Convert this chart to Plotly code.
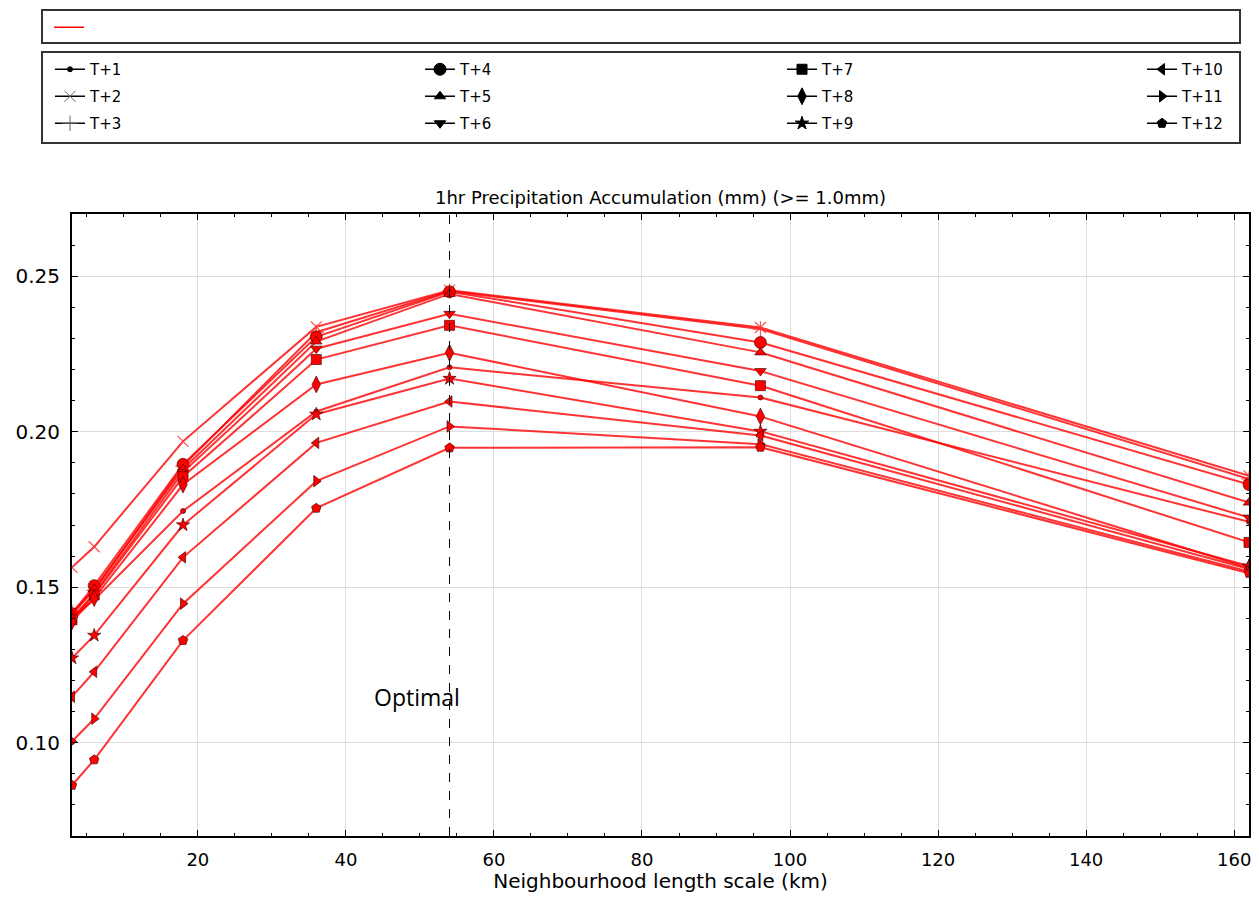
import plotly.graph_objects as go

# ---- data ----
scales_km = [3, 6, 18, 36, 54, 96, 162]
lead_names = ["T+1", "T+2", "T+3", "T+4", "T+5", "T+6",
              "T+7", "T+8", "T+9", "T+10", "T+11", "T+12"]

t1 = [0.1400, 0.1460, 0.1745, 0.2065, 0.2207, 0.2110, 0.1710]
t2 = [0.1564, 0.1630, 0.1969, 0.2337, 0.2455, 0.2335, 0.1858]
t3 = [0.1420, 0.1490, 0.1890, 0.2320, 0.2452, 0.2330, 0.1848]
t4 = [0.1415, 0.1505, 0.1895, 0.2305, 0.2450, 0.2287, 0.1830]
t5 = [0.1410, 0.1495, 0.1880, 0.2290, 0.2443, 0.2255, 0.1772]
t6 = [0.1400, 0.1480, 0.1870, 0.2267, 0.2379, 0.2195, 0.1724]
t7 = [0.1395, 0.1475, 0.1855, 0.2232, 0.2342, 0.2148, 0.1644]
t8 = [0.1390, 0.1465, 0.1830, 0.2152, 0.2254, 0.2049, 0.1562]
t9 = [0.1272, 0.1345, 0.1700, 0.2056, 0.2171, 0.2001, 0.1568]
t10 = [0.1148, 0.1228, 0.1596, 0.1964, 0.2097, 0.1988, 0.1558]
t11 = [0.1004, 0.1077, 0.1447, 0.1841, 0.2017, 0.1960, 0.1550]
t12 = [0.0863, 0.0945, 0.1329, 0.1754, 0.1948, 0.1950, 0.1545]
series = [t1, t2, t3, t4, t5, t6, t7, t8, t9, t10, t11, t12]

optimal_scale = 54
x_ticks = [20, 40, 60, 80, 100, 120, 140, 160]
y_ticks = [0.10, 0.15, 0.20, 0.25]

# ---- styles ----
symbols = ["circle", "x-thin", "cross-thin", "circle", "triangle-up", "triangle-down",
           "square", "diamond-tall", "star", "triangle-left", "triangle-right", "pentagon"]
sizes = [5, 11, 11, 12, 10, 10, 10, 12, 10, 10, 10, 10]
RED = "rgba(255,0,0,0.8)"
FONT = "DejaVu Sans"

# page offset (browser body margin) and geometry
OFF = 8
W, H = 1259 - 2 * OFF, 901 - 2 * OFF
PL, PR, PT, PB = 72, 1249, 214, 836          # plot area in screen pixels
L, R, T, B = PL - OFF, W - (PR - OFF), PT - OFF, H - (PB - OFF)
pw, ph = W - L - R, H - T - B


def sx(x):
    """screen pixel x -> paper fraction"""
    return (x - OFF - L) / pw


def sy(y):
    """screen pixel y -> paper fraction"""
    return (H - B - (y - OFF)) / ph


fig = go.Figure()

for name, vals, sym, sz in zip(lead_names, series, symbols, sizes):
    thin = sym.endswith("-thin")
    fig.add_trace(go.Scatter(
        x=scales_km, y=vals, mode="lines+markers", name=name, showlegend=False,
        line=dict(color=RED, width=2),
        marker=dict(symbol=sym, size=sz, color="red",
                    line=dict(color="rgba(255,60,60,0.9)" if thin else "rgba(60,0,0,0.8)",
                              width=1.2 if thin else 0.8)),
    ))

# legend box 1: line colour key (no label)
fig.add_trace(go.Scatter(x=[None], y=[None], mode="lines", name=" ",
                         line=dict(color="red", width=1.5), legend="legend"))

# legend box 2: marker key, 4 columns x 3 rows
col_legends = ["legend2", "legend3", "legend4", "legend5"]
for i, (name, sym, sz) in enumerate(zip(lead_names, symbols, sizes)):
    thin = sym.endswith("-thin")
    fig.add_trace(go.Scatter(
        x=[None], y=[None], mode="lines+markers", name=name,
        legend=col_legends[i // 3], legendgroup=name,
        line=dict(color="black", width=1.5),
        marker=dict(symbol=sym, size=sz, color="#777" if thin else "black",
                    line=dict(color="#666" if thin else "black", width=1)),
    ))

leg_font = dict(family=FONT, size=15, color="black")
layout_legends = {
    "legend": dict(x=sx(49), y=sy(11), xanchor="left", yanchor="top",
                   bgcolor="rgba(0,0,0,0)", borderwidth=0, font=leg_font,
                   itemsizing="trace"),
}
for lg, xx in zip(col_legends, [50, 420, 782, 1142]):
    layout_legends[lg] = dict(x=sx(xx), y=sy(53), xanchor="left", yanchor="top",
                              bgcolor="rgba(0,0,0,0)", borderwidth=0, font=leg_font,
                              tracegroupgap=4.5, itemsizing="trace")

fig.update_layout(
    width=W, height=H,
    margin=dict(l=L, r=R, t=T, b=B, autoexpand=False),
    paper_bgcolor="white", plot_bgcolor="white",
    font=dict(family=FONT, color="black"),
    title=dict(text="1hr Precipitation Accumulation (mm) (>= 1.0mm)",
               x=0.5, xref="paper", xanchor="center",
               y=1 - (198 - OFF) / H, yref="container", yanchor="middle",
               font=dict(family=FONT, size=18, color="black")),
    showlegend=True,
    **layout_legends,
)

fig.update_xaxes(
    range=[3, 162], tickvals=x_ticks, ticks="inside", ticklen=6, tickcolor="black",
    showline=True, linecolor="black", linewidth=2, mirror="allticks",
    showgrid=True, gridcolor="#dddddd", gridwidth=1, zeroline=False,
    minor=dict(dtick=5, ticks="inside", ticklen=3, tickcolor="black", showgrid=False),
    tickfont=dict(family=FONT, size=18), ticklabelstandoff=6, ticklabeloverflow="allow",
    title=dict(text="Neighbourhood length scale (km)", font=dict(family=FONT, size=20), standoff=13),
)
fig.update_yaxes(
    range=[0.07, 0.27], tickvals=y_ticks, tickformat=".2f", ticks="inside", ticklen=6,
    tickcolor="black",
    showline=True, linecolor="black", linewidth=2, mirror="allticks",
    showgrid=True, gridcolor="#dddddd", gridwidth=1, zeroline=False,
    minor=dict(dtick=0.01, ticks="inside", ticklen=3, tickcolor="black", showgrid=False),
    tickfont=dict(family=FONT, size=20), ticklabelstandoff=6,
)

# optimal scale marker
fig.add_vline(x=optimal_scale, line=dict(color="black", width=1, dash="dash"))
fig.add_annotation(x=49.6, y=0.1147, xref="x", yref="y", text="Optimal", showarrow=False,
                   font=dict(family="Open Sans", size=23, color="black"))

# legend frames
fig.add_shape(type="rect", xref="paper", yref="paper", x0=sx(42), x1=sx(1240),
              y0=sy(43), y1=sy(10), line=dict(color="#333", width=2))
fig.add_shape(type="rect", xref="paper", yref="paper", x0=sx(42), x1=sx(1240),
              y0=sy(143), y1=sy(52), line=dict(color="#333", width=2))

fig.write_html("out.html")
